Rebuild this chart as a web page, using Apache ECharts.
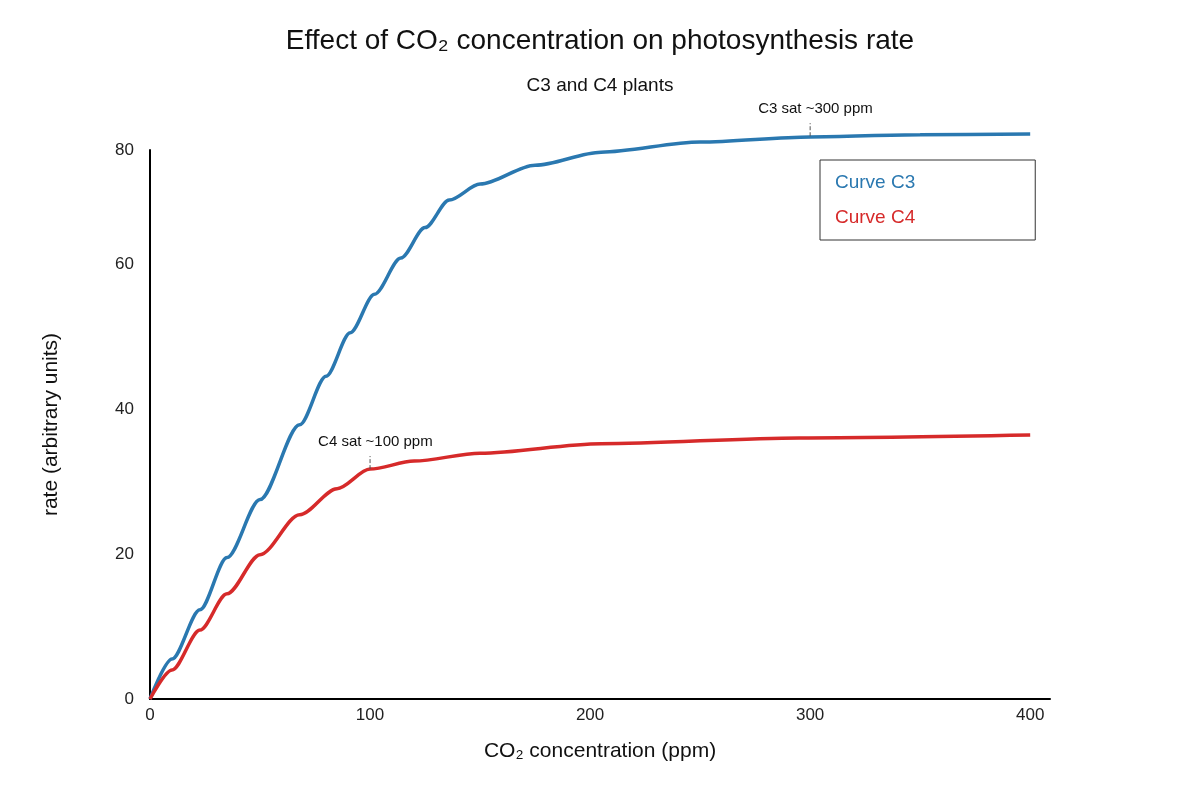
<!DOCTYPE html>
<html><head><meta charset="utf-8">
<script src="https://cdn.jsdelivr.net/npm/echarts@6/dist/echarts.min.js"></script>
<style>html,body{margin:0;padding:0;background:#fff}#c{width:1200px;height:800px}</style>
</head><body><div id="c"></div>
<script>
const c3X = [0, 10, 22.7, 35, 50, 68, 80, 91, 102, 114, 125, 136, 150, 175, 205, 250, 300, 350, 400];
const c3Y = [0, 5.5, 12.3, 19.5, 27.5, 37.8, 44.5, 50.5, 55.8, 60.8, 65, 68.8, 71, 73.6, 75.4, 76.8, 77.5, 77.8, 77.9];
const c4X = [0, 10, 22.7, 35, 50, 68, 85, 100, 120, 150, 205, 295, 400];
const c4Y = [0, 4, 9.5, 14.5, 19.9, 25.4, 29, 31.7, 32.8, 33.9, 35.2, 36, 36.4];
const c3Sat = [[300, 77.6], [300, 79.4]];
const c4Sat = [[100, 31.7], [100, 33.5]];
const xTicks = [0, 100, 200, 300, 400];
const yTickLabels = ['0', '20', '40', '60', '80'];
const F = 'Liberation Sans, Arial, sans-serif';
const chart = echarts.init(document.getElementById('c'));
const zip = (a, b) => a.map((v, i) => [v, b[i]]);
const satSeries = (name, data) => ({name, type: 'line', clip: false, symbol: 'none', data, silent: true,
  lineStyle: {type: 'dashed', color: '#555', width: 1},
  endLabel: {show: true, formatter: name, fontSize: 15, color: '#111', fontFamily: F, offset: [-60, -14]}});
chart.setOption({
  animation: false,
  textStyle: {fontFamily: F},
  title: {text: 'Effect of CO\u2082 concentration on photosynthesis rate', subtext: 'C3 and C4 plants',
    left: 'center', top: 22, itemGap: 21,
    textStyle: {fontSize: 28, fontWeight: 'normal', color: '#111', fontFamily: F},
    subtextStyle: {fontSize: 19, color: '#111', fontFamily: F}},
  legend: {orient: 'vertical', left: 820, top: 160,
    borderColor: '#333', borderWidth: 1, padding: [13, 120, 13, 10], itemGap: 16,
    icon: 'none', itemWidth: 0,
    data: [{name: 'Curve C3', textStyle: {color: '#2a78b0'}}, {name: 'Curve C4', textStyle: {color: '#d62a2a'}}],
    textStyle: {fontSize: 19, fontFamily: F}},
  grid: {left: 150, right: 150, top: 150, bottom: 101},
  xAxis: {type: 'value', min: 0, max: 409, interval: 100, name: 'CO\u2082 concentration (ppm)',
    nameLocation: 'middle', nameGap: 42, nameTextStyle: {fontSize: 21, color: '#111'},
    axisLine: {lineStyle: {color: '#000', width: 2}}, axisTick: {show: false}, splitLine: {show: false},
    axisLabel: {fontSize: 17, color: '#222', showMaxLabel: false, formatter: v => xTicks.includes(v) ? String(v) : ''}},
  yAxis: {type: 'value', min: 0, max: 75.7, interval: 20, name: 'rate (arbitrary units)',
    nameLocation: 'middle', nameGap: 88, nameTextStyle: {fontSize: 21, color: '#111'},
    axisLine: {show: true, lineStyle: {color: '#000', width: 2}}, axisTick: {show: false}, splitLine: {show: false},
    axisLabel: {fontSize: 17, color: '#222', margin: 16, showMaxLabel: true,
      formatter: v => v > 70 ? yTickLabels[4] : yTickLabels[Math.round(v / 20)]}},
  series: [
    {name: 'Curve C3', type: 'line', smooth: 0.3, smoothMonotone: 'x', clip: false, symbol: 'none', data: zip(c3X, c3Y),
      lineStyle: {width: 3.5, color: '#2a78b0'}, itemStyle: {color: '#2a78b0'}},
    {name: 'Curve C4', type: 'line', smooth: 0.3, smoothMonotone: 'x', clip: false, symbol: 'none', data: zip(c4X, c4Y),
      lineStyle: {width: 3.5, color: '#d62a2a'}, itemStyle: {color: '#d62a2a'}},
    satSeries('C3 sat ~300 ppm', c3Sat),
    satSeries('C4 sat ~100 ppm', c4Sat)
  ]
});
</script></body></html>
